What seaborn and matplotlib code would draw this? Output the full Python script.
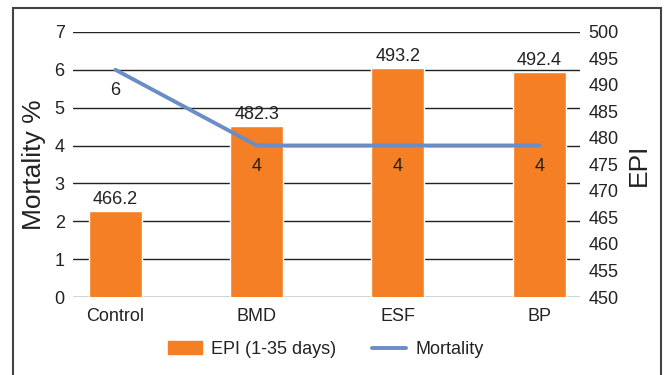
import matplotlib
matplotlib.use("Agg")
import matplotlib.pyplot as plt
import seaborn as sns
import numpy as np
import pandas as pd
from matplotlib.patches import Rectangle
from matplotlib.lines import Line2D
from matplotlib.patches import Patch

# data
groups = ["Control", "BMD", "ESF", "BP"]
epi = [466.2, 482.3, 493.2, 492.4]
mortality = [6, 4, 4, 4]

df = pd.DataFrame({"Group": groups, "EPI": epi, "Mortality": mortality})

sns.set_style("white")
plt.rcParams["font.family"] = ["Liberation Sans", "DejaVu Sans"]

orange = "#F47F24"
blue = "#6A8CC7"
txt = "#222222"

fig = plt.figure(figsize=(6.7, 3.75), dpi=100)
ax = fig.add_axes([0.109, 0.208, 0.757, 0.707])

# bars (EPI, right scale)
sns.barplot(data=df, x="Group", y="EPI", color=orange, width=0.375,
            saturation=1, ax=ax, zorder=2)

# line (Mortality, left scale)
ax2 = ax.twinx()
sns.lineplot(data=df, x="Group", y="Mortality", color=blue, lw=2.8,
             ax=ax2, zorder=3)

ax.set_ylim(450, 500)
ax.set_xlim(-0.30, 3.29)
ax.yaxis.tick_right()
ax.yaxis.set_label_position("right")
ax.set_yticks(np.arange(450, 501, 5))
ax.yaxis.remove_overlapping_locs = False
ax.set_yticks(np.linspace(450, 500, 8), minor=True)
ax.grid(True, which="minor", axis="y", color=txt, lw=1.0, zorder=0)
ax.grid(False, which="major")
ax.set_axisbelow(True)
ax.tick_params(axis="y", which="both", length=0, labelsize=13, pad=6,
               labelcolor=txt)
ax.tick_params(axis="x", length=0, labelsize=13, pad=8, labelcolor=txt)
ax.set_xlabel("")
ax.set_ylabel("EPI", fontsize=19, labelpad=6, color=txt)
for s in ax.spines.values():
    s.set_visible(False)
for c in ax.containers:
    ax.bar_label(c, labels=[f"{v:.1f}" for v in epi], fontsize=13,
                 padding=2, color=txt)

ax2.set_ylim(0, 7)
ax2.set_xlim(-0.30, 3.29)
ax2.yaxis.tick_left()
ax2.yaxis.set_label_position("left")
ax2.set_yticks(range(0, 8))
ax2.tick_params(axis="y", length=0, labelsize=13, pad=6, labelcolor=txt)
ax2.set_ylabel("Mortality %", fontsize=19, labelpad=6, color=txt)
ax2.set_xlabel("")
for s in ax2.spines.values():
    s.set_visible(False)
for i, m in enumerate(mortality):
    ax2.annotate(str(m), (i, m), xytext=(0, -9), textcoords="offset points",
                 ha="center", va="top", fontsize=13, color=txt)

# legend
handles = [Patch(color=orange, label="EPI (1-35 days)"),
           Line2D([], [], color=blue, lw=2.8, label="Mortality")]
fig.legend(handles=handles, loc="center", bbox_to_anchor=(0.486, 0.068),
           ncol=2, frameon=False, fontsize=13, handlelength=1.9,
           handletextpad=0.5, columnspacing=2.0, labelcolor=txt)

# outer frame
fig.patches.append(Rectangle((13 / 670, -0.02), 648 / 670, 1.01 - 4 / 375,
                             transform=fig.transFigure, fill=False,
                             edgecolor="#444444", lw=1.5))

fig.savefig("out.png", dpi=100)
